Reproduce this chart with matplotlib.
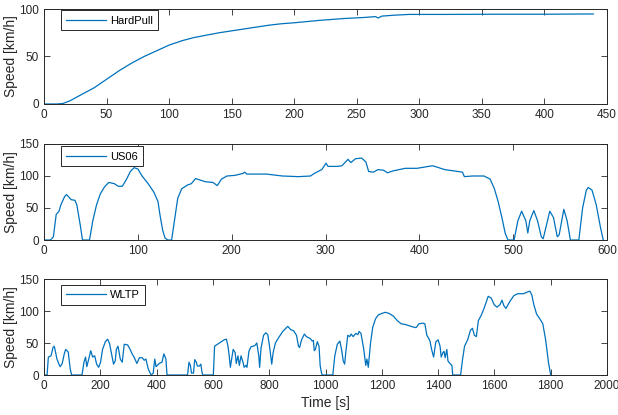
import matplotlib
matplotlib.use("Agg")
import matplotlib.pyplot as plt

# HardPull (time s, speed km/h)
hp_t = [0, 10, 15, 21, 30, 40, 50, 60, 70, 80, 90, 100, 110, 120, 130, 140, 150, 160, 170, 180, 190, 200, 220, 240,
        255, 265, 267, 270, 280, 292, 320, 360, 400, 439]
hp_v = [0, 0, 0.5, 3.5, 10, 17, 26, 35, 43, 50, 56, 62, 66.5, 70, 72.5, 75, 77, 79, 81, 83, 84.5, 85.5, 88, 90,
        91, 92, 90.5, 92.5, 93.5, 94.3, 94.3, 94.5, 94.5, 94.8]

# US06
us_t = [0, 7, 10, 13, 16, 18, 22, 24, 29, 33, 35, 39, 41, 48.5, 52, 56, 60, 64.5, 69, 75, 79, 83.5, 88, 92, 96, 100,
        104.5, 111, 117, 121.5, 123.5, 126.5, 129, 132, 136, 139, 142.5, 146.7, 153, 157, 161.5, 165.7, 172, 180, 184.7,
        189, 195, 203.6, 212, 214, 216, 237, 254, 271, 284, 288, 296, 300.6, 302.7, 313, 317.5, 324, 327, 332, 338.5,
        343, 346, 351, 356, 362, 366, 372, 385, 397.5, 414, 418.6, 427, 446, 448, 456.6, 469, 475.5, 480, 484, 488,
        491.6, 494.5, 501, 505, 509, 513.5, 515.6, 517.7, 522, 526, 530, 532, 539, 543, 547, 549, 554, 557.5, 561,
        570, 574, 578, 580, 584, 588.5, 593, 596]
us_v = [0, 0, 5, 40, 45, 55, 68, 71, 63, 62, 55, 20, 0, 0, 30, 55, 72, 83, 90, 88, 84, 84, 95, 107, 113, 111,
        100, 88, 75, 60, 40, 15, 3, 0, 0, 30, 65, 80, 86, 88, 96, 94, 91, 90, 85,
        95, 100, 101, 104, 106, 103, 103, 100, 99, 100, 104, 110, 120, 115, 115, 116, 126, 121, 127, 128,
        122, 107, 106, 110, 109, 105, 108, 112, 112, 116, 114, 110, 106, 99, 100, 100, 95, 80, 60, 35,
        10, 0, 0, 30, 45, 30, 11, 30, 46, 30, 5, 2, 45, 35, 5, 8, 48, 30, 0,
        0, 50, 78, 82, 78, 55, 20, 0]

# WLTP
wl_t = [0, 11, 15.5, 25, 32, 36.5, 46, 53, 57.6, 64.7, 72, 77, 86, 93, 98, 135, 142, 147.6, 152, 159, 166, 173, 180,
        187, 194, 201, 208, 218, 226, 233, 239, 247, 253, 257, 263, 271, 278, 285, 297, 306, 313, 320, 330, 339, 349,
        356, 362, 370, 377, 381, 388, 393.5, 398, 409, 419, 426, 433, 437, 510, 515, 520, 524, 531, 535.5, 541, 545,
        552, 557, 561, 564, 601.5, 606, 616, 623, 630, 640, 648, 653.5, 658, 662, 672, 679, 683, 689, 694, 700, 707,
        711, 717, 721, 728, 735, 749, 756, 763, 766, 771, 780, 788, 795, 802, 809, 814, 822, 833, 848, 857, 866, 876,
        887, 897, 904, 908, 915, 925, 932, 946, 953, 957, 960, 964, 971, 977, 981, 985, 988, 1026, 1033, 1042, 1051,
        1057, 1063, 1068, 1072, 1079, 1086, 1091, 1098, 1108, 1115, 1119, 1126, 1136, 1143, 1147, 1152, 1160, 1168,
        1178, 1188, 1199, 1213, 1227, 1241, 1255, 1269, 1283, 1297, 1311, 1322, 1332, 1346, 1353, 1360, 1367, 1371,
        1377, 1384, 1392, 1400, 1407, 1411, 1417, 1421, 1425, 1431, 1435, 1442, 1449, 1452, 1480, 1487, 1494, 1505,
        1515, 1522, 1529, 1536, 1543, 1553, 1564, 1578, 1589, 1599, 1609, 1620, 1627, 1634, 1641, 1655, 1669, 1683,
        1704, 1719, 1726, 1733, 1740, 1750, 1761, 1772, 1782, 1792, 1800]
wl_v = [0, 0, 28, 30, 43, 45, 25, 17, 13, 18, 33, 40, 36, 10, 0, 0, 20, 28, 13, 25, 38, 28, 30,
        17, 12, 20, 40, 52, 56, 49, 35, 17, 22, 40, 45, 25, 20, 48, 47, 40, 33, 28, 18, 27, 27,
        23, 25, 10, 3, 0, 3, 25, 13, 18, 20, 33, 25, 0, 0, 20, 15, 3, 3, 24, 20, 14,
        14, 17, 5, 0, 0, 45, 48, 50, 52, 55, 56, 45, 30, 12, 40, 35, 18, 30, 15, 30, 20,
        12, 15, 12, 37, 44, 46, 50, 30, 12, 42, 62, 66, 63, 42, 17, 35, 50, 58, 68, 72, 76, 71,
        69, 62, 45, 43, 55, 64, 60, 57, 53, 54, 38, 40, 52, 45, 15, 5, 0, 0, 30, 48, 53,
        40, 22, 17, 35, 62, 60, 64, 60, 65, 63, 68, 65, 40, 15, 25, 12, 50, 75,
        88, 94, 96, 98, 96, 92, 85, 80, 79, 77, 75, 74, 80, 81, 80, 62, 57, 53,
        40, 28, 52, 55, 45, 28, 35, 37, 27, 40, 22, 18, 15, 0, 0, 25, 45, 55,
        70, 73, 62, 60, 85, 93, 105, 123, 120, 110, 106, 110, 117, 108, 104, 115, 124, 127,
        127, 130, 131, 125, 110, 95, 88, 80, 55, 20, 0]

names = ["HardPull", "US06", "WLTP"]
xlims = [(0, 450), (0, 600), (0, 2000)]
xsteps = [50, 100, 200]
ylims = [(0, 100), (0, 150), (0, 150)]

plt.rcParams['font.family'] = ['Liberation Sans', 'DejaVu Sans']
fig = plt.figure(figsize=(6.18, 4.15), dpi=100)
L, R = 44 / 618, 607 / 618
W = R - L
boxes = [(9, 104), (144, 240), (279, 375)]
leg_dy = [1.5, 2.5, 5.5]  # legend offset from top of axes, pixels
line_color = '#0072BD'
txt = '#262626'
series = [(hp_t, hp_v), (us_t, us_v), (wl_t, wl_v)]
for i, ((t, v), name) in enumerate(zip(series, names)):
    top, bot = boxes[i]
    h_px = bot - top
    ax = fig.add_axes([L, 1 - bot / 415, W, h_px / 415])
    ax.plot(t, v, color=line_color, lw=0.9, label=name)
    ax.set_xlim(*xlims[i])
    ax.set_ylim(*ylims[i])
    ax.set_xticks(list(range(xlims[i][0], xlims[i][1] + 1, xsteps[i])))
    ax.set_yticks(list(range(0, ylims[i][1] + 1, 50)))
    ax.tick_params(direction='in', top=True, right=True, labelsize=8.5, colors=txt,
                   length=4, width=0.6, pad=3.5)
    for s in ax.spines.values():
        s.set_color(txt)
        s.set_linewidth(0.7)
    ax.set_ylabel('Speed [km/h]', fontsize=10, color=txt)
    ax.yaxis.set_label_coords(-26 / 563, 0.5)
    leg = ax.legend(loc='upper left', fancybox=False, edgecolor=txt, framealpha=1,
                    fontsize=8, handlelength=3.6, handletextpad=0.4, borderaxespad=0,
                    borderpad=0.45,
                    bbox_to_anchor=(17 / 563, 1 - leg_dy[i] / h_px))
    leg.get_frame().set_linewidth(0.7)
    if i == 2:
        ax.set_xlabel('Time [s]', fontsize=10, color=txt, labelpad=3)

fig.savefig('out.png', dpi=100)
